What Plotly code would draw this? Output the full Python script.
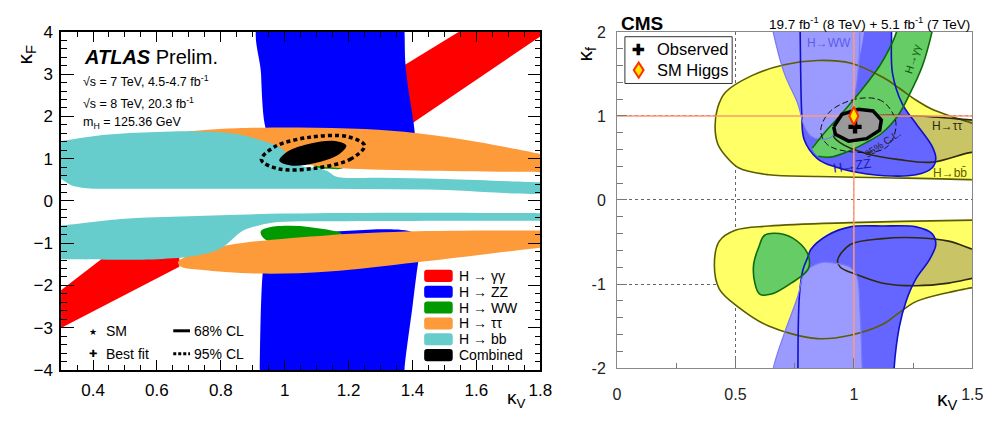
import plotly.graph_objects as go

W, H = 1001, 421
FONT = "Liberation Sans, Arial, Helvetica, sans-serif"

# ================= ATLAS panel (left): kappa_V vs kappa_F =================
ATLAS_KV_RANGE = [0.3, 1.8]
ATLAS_KF_RANGE = [-4, 4]
ATLAS_XTICKS = [0.4, 0.6, 0.8, 1.0, 1.2, 1.4, 1.6, 1.8]
ATLAS_XTICKTEXT = ["0.4", "0.6", "0.8", "1", "1.2", "1.4", "1.6", "1.8"]
ATLAS_YTICKS = [-4, -3, -2, -1, 0, 1, 2, 3, 4]
ATLAS_YTICKTEXT = ["\u22124", "\u22123", "\u22122", "\u22121", "0", "1", "2", "3", "4"]

# H -> gamma gamma (two bands)
ATLAS_GG_UP_KV = [1.30, 1.577, 1.85, 1.406, 1.30]
ATLAS_GG_UP_KF = [2.87, 4.15, 4.15, 1.876, 1.33]
ATLAS_GG_LO_KV = [0.25, 0.25, 0.44, 0.67, 0.67]
ATLAS_GG_LO_KF = [-3.2, -2.4, -1.3, -1.3, -1.56]
# H -> ZZ
ATLAS_ZZ_UP_KV = [0.925, 0.926, 0.937, 0.95, 0.97, 1.10, 1.30, 1.42, 1.415, 1.409, 1.403, 1.39, 1.378, 1.375, 1.372]
ATLAS_ZZ_UP_KF = [4.3, 3.0, 1.83, 1.5, 1.25, 0.95, 0.88, 0.85, 1.2, 1.49, 1.88, 2.5, 3.23, 4.0, 4.3]
ATLAS_ZZ_LO_KV = [0.922, 0.922, 0.931, 0.945, 0.97, 1.10, 1.40, 1.43, 1.418, 1.40, 1.375, 1.375]
ATLAS_ZZ_LO_KF = [-4.3, -4.0, -1.72, -1.0, -0.76, -0.74, -0.74, -1.0, -1.45, -2.5, -4.0, -4.3]
# H -> WW
ATLAS_WW_LO_KV = [0.925, 0.95, 1.014, 1.08, 1.147, 1.178, 1.15, 0.96, 0.93]
ATLAS_WW_LO_KF = [-0.72, -0.63, -0.59, -0.62, -0.70, -0.78, -0.95, -0.98, -0.85]
ATLAS_WW_UP_KV = [1.08, 1.10, 1.14, 1.18, 1.19, 1.15]
ATLAS_WW_UP_KF = [0.95, 0.80, 0.76, 0.77, 0.85, 0.95]
# H -> tau tau
ATLAS_TT_UP_KV = [0.69, 0.75, 0.85, 1.045, 1.25, 1.415, 1.6, 1.8, 1.85, 1.85, 1.8, 1.415, 1.15, 1.05, 0.93, 0.80, 0.72]
ATLAS_TT_UP_KF = [1.63, 1.68, 1.72, 1.74, 1.70, 1.60, 1.40, 1.11, 1.02, 0.67, 0.68, 0.72, 0.79, 0.90, 1.20, 1.45, 1.57]
ATLAS_TT_LO_KV = [0.666, 0.707, 0.83, 1.138, 1.415, 1.8, 1.85, 1.85, 1.8, 1.415, 1.138, 0.922, 0.737, 0.676]
ATLAS_TT_LO_KF = [-1.45, -1.27, -1.04, -0.81, -0.72, -0.70, -0.70, -1.07, -1.11, -1.45, -1.67, -1.72, -1.63, -1.56]
# H -> bb
ATLAS_BB_UP_KV = [0.25, 0.3, 0.43, 0.6, 0.707, 0.83, 0.92, 0.984, 1.05, 1.11, 1.135, 1.16, 1.3, 1.5, 1.8, 1.85,
                  1.85, 1.45, 1.0, 0.5, 0.38, 0.33, 0.3, 0.26]
ATLAS_BB_UP_KF = [1.40, 1.42, 1.56, 1.63, 1.65, 1.60, 1.45, 1.27, 0.84, 0.77, 0.70, 0.58, 0.55, 0.52, 0.44, 0.43,
                  0.25, 0.27, 0.29, 0.29, 0.30, 0.38, 0.52, 0.62]
ATLAS_BB_LO_KV = [0.25, 0.3, 0.5, 0.7, 1.0, 1.4, 1.8, 1.85, 1.85, 1.8, 1.2, 0.98, 0.92, 0.87, 0.80, 0.72, 0.6, 0.3, 0.25]
ATLAS_BB_LO_KF = [-0.60, -0.58, -0.42, -0.36, -0.30, -0.28, -0.29, -0.29, -0.47, -0.47, -0.48, -0.50, -0.58, -0.70,
                  -1.12, -1.30, -1.38, -1.38, -1.38]
# Combined 68% and 95% CL
ATLAS_C68_KV = [1.193, 1.168, 1.096, 1.019, 0.983, 1.009, 1.081, 1.157]
ATLAS_C68_KF = [1.311, 1.092, 0.899, 0.841, 0.951, 1.168, 1.360, 1.419]
ATLAS_C95_KV = [1.250, 1.208, 1.095, 0.979, 0.927, 0.969, 1.081, 1.198]
ATLAS_C95_KF = [1.309, 0.997, 0.773, 0.762, 0.974, 1.284, 1.510, 1.519]

ATLAS_LEG_LABELS = ["H \u2192 \u03b3\u03b3", "H \u2192 ZZ", "H \u2192 WW", "H \u2192 \u03c4\u03c4", "H \u2192 bb", "Combined"]
ATLAS_COLORS = ["#ff0000", "#0000ff", "#009a00", "#fd9a3a", "#66cccc", "#000000"]

# ================= CMS panel (right): kappa_V vs kappa_f =================
CMS_KV_RANGE = [0, 1.5]
CMS_KF_RANGE = [-2, 2]
CMS_XTICKS = [0, 0.5, 1.0, 1.5]
CMS_XTICKTEXT = ["0", "0.5", "1", "1.5"]
CMS_YTICKS = [-2, -1, 0, 1, 2]
CMS_YTICKTEXT = ["-2", "-1", "0", "1", "2"]

CMS_BB_UP_KV = [0.414, 0.425, 0.457, 0.569, 0.706, 0.847, 0.985, 1.122, 1.192, 1.262, 1.33, 1.504, 1.56,
                1.56, 1.504, 1.122, 0.847, 0.64, 0.515, 0.457, 0.425]
CMS_BB_UP_KF = [0.87, 1.10, 1.28, 1.48, 1.61, 1.66, 1.63, 1.46, 1.33, 1.19, 1.08, 0.91, 0.86,
                0.23, 0.24, 0.265, 0.28, 0.30, 0.38, 0.53, 0.67]
CMS_BB_LO_KV = [0.411, 0.432, 0.499, 0.64, 0.985, 1.504, 1.56, 1.56, 1.504, 1.40, 1.262, 1.192, 1.122,
                0.985, 0.847, 0.64, 0.515, 0.432]
CMS_BB_LO_KF = [-0.77, -0.49, -0.36, -0.31, -0.27, -0.24, -0.24, -1.00, -1.04, -1.10, -1.21, -1.34, -1.48,
                -1.61, -1.65, -1.50, -1.28, -1.06]
CMS_TT_UP_KV = [0.914, 0.985, 1.055, 1.262, 1.504, 1.56, 1.56, 1.504, 1.33, 1.192, 1.055, 0.943]
CMS_TT_UP_KF = [0.77, 0.91, 0.99, 1.0, 0.95, 0.94, 0.55, 0.57, 0.45, 0.48, 0.55, 0.68]
CMS_TT_LO_KV = [0.931, 0.985, 1.122, 1.262, 1.40, 1.504, 1.56, 1.56, 1.504, 1.40, 1.262, 1.122, 1.013, 0.943]
CMS_TT_LO_KF = [-0.72, -0.53, -0.46, -0.45, -0.49, -0.59, -0.64, -0.90, -0.93, -0.99, -1.02, -0.99, -0.89, -0.80]
CMS_ZZ_UP_KV = [0.772, 0.775, 0.78, 0.79, 0.847, 0.914, 1.055, 1.262, 1.33, 1.346, 1.33, 1.262, 1.205, 1.163, 1.159, 1.158]
CMS_ZZ_UP_KF = [2.3, 1.6, 1.02, 0.72, 0.49, 0.40, 0.31, 0.30, 0.38, 0.49, 0.64, 0.91, 1.14, 1.51, 1.99, 2.3]
CMS_ZZ_LO_KV = [0.764, 0.77, 0.785, 0.806, 0.818, 0.889, 0.985, 1.122, 1.262, 1.33, 1.346, 1.317, 1.262, 1.22, 1.192, 1.17, 1.168]
CMS_ZZ_LO_KF = [-2.3, -1.14, -0.83, -0.68, -0.59, -0.42, -0.32, -0.31, -0.32, -0.40, -0.53, -0.72, -0.94, -1.21, -1.51, -2.0, -2.3]
CMS_WW_UP_KV = [0.64, 0.66, 0.706, 0.764, 0.79, 0.818, 0.86, 0.90, 0.93, 0.97, 1.00, 1.02, 1.026]
CMS_WW_UP_KF = [2.3, 1.99, 1.51, 1.14, 0.88, 0.76, 0.72, 0.74, 0.83, 1.00, 1.2, 1.6, 2.3]
CMS_WW_LO_KV = [0.65, 0.66, 0.706, 0.764, 0.79, 0.83, 0.872, 0.914, 0.985, 1.013, 1.026, 1.035, 1.037]
CMS_WW_LO_KF = [-2.3, -2.0, -1.59, -1.14, -0.87, -0.78, -0.74, -0.75, -0.80, -0.91, -1.33, -2.0, -2.3]
CMS_GG_UP_KV = [0.825, 0.87, 0.94, 1.03, 1.11, 1.15, 1.18, 1.20, 1.35, 1.33, 1.29, 1.234, 1.185, 1.12, 1.05, 0.96, 0.90, 0.85]
CMS_GG_UP_KF = [0.62, 0.78, 1.0, 1.3, 1.6, 1.8, 2.0, 2.3, 2.3, 2.0, 1.6, 1.25, 1.0, 0.80, 0.68, 0.56, 0.51, 0.52]
CMS_GG_LO_KV = [0.577, 0.60, 0.623, 0.706, 0.777, 0.81, 0.806, 0.735, 0.652, 0.602, 0.582]
CMS_GG_LO_KF = [-0.76, -0.55, -0.42, -0.41, -0.53, -0.68, -0.83, -0.99, -1.12, -1.12, -0.99]
CMS_C68_KV = [0.915, 0.950, 1.019, 1.081, 1.116, 1.109, 1.054, 0.978, 0.922]
CMS_C68_KF = [0.87, 1.02, 1.08, 1.06, 0.95, 0.83, 0.73, 0.70, 0.78]
CMS_C95_KV = [1.178, 1.123, 1.026, 0.902, 0.860, 0.888, 0.998, 1.137]
CMS_C95_KF = [0.91, 1.17, 1.21, 1.06, 0.83, 0.66, 0.57, 0.625]
CMS_OBS_KV = [1.005]
CMS_OBS_KF = [0.87]
SM_KV = [1.0]
SM_KF = [1.0]
CMS_LEG_LABELS = ["Observed", "SM Higgs"]


def px(x):
    return x / W


def py(y):
    return 1 - y / H


fig = go.Figure()


def region(kv, kf, color, xa, ya, shape="spline", close=True):
    xs, ys = list(kv), list(kf)
    if close:
        xs.append(xs[0]); ys.append(ys[0])
    fig.add_trace(go.Scatter(x=xs, y=ys, mode="lines", fill="toself", fillcolor=color,
                             line=dict(width=0, shape=shape, smoothing=1), xaxis=xa, yaxis=ya,
                             hoverinfo="skip", showlegend=False))


def outline(kv, kf, color, width, xa, ya, shape="spline", close=True, dash=None):
    xs, ys = list(kv), list(kf)
    if close:
        xs.append(xs[0]); ys.append(ys[0])
    fig.add_trace(go.Scatter(x=xs, y=ys, mode="lines",
                             line=dict(width=width, color=color, shape=shape, smoothing=1, dash=dash),
                             xaxis=xa, yaxis=ya, hoverinfo="skip", showlegend=False))


# ---- ATLAS regions ----
region(ATLAS_GG_UP_KV, ATLAS_GG_UP_KF, ATLAS_COLORS[0], "x", "y", shape="linear")
region(ATLAS_GG_LO_KV, ATLAS_GG_LO_KF, ATLAS_COLORS[0], "x", "y", shape="linear")
region(ATLAS_ZZ_UP_KV, ATLAS_ZZ_UP_KF, ATLAS_COLORS[1], "x", "y")
region(ATLAS_ZZ_LO_KV, ATLAS_ZZ_LO_KF, ATLAS_COLORS[1], "x", "y")
region(ATLAS_WW_LO_KV, ATLAS_WW_LO_KF, ATLAS_COLORS[2], "x", "y")
region(ATLAS_WW_UP_KV, ATLAS_WW_UP_KF, ATLAS_COLORS[2], "x", "y")
region(ATLAS_TT_UP_KV, ATLAS_TT_UP_KF, ATLAS_COLORS[3], "x", "y")
region(ATLAS_TT_LO_KV, ATLAS_TT_LO_KF, ATLAS_COLORS[3], "x", "y")
region(ATLAS_BB_UP_KV, ATLAS_BB_UP_KF, ATLAS_COLORS[4], "x", "y")
region(ATLAS_BB_LO_KV, ATLAS_BB_LO_KF, ATLAS_COLORS[4], "x", "y")
region(ATLAS_C68_KV, ATLAS_C68_KF, ATLAS_COLORS[5], "x", "y")
outline(ATLAS_C95_KV, ATLAS_C95_KF, "black", 3.5, "x", "y", dash="4px,3px")

# ---- CMS regions ----
C_YEL, C_TT, C_ZZ, C_WW, C_GG, C_COMB = "#ffff66", "#c9c466", "#6565ff", "#9b9bff", "#66cc66", "#9a9a9a"
region(CMS_BB_UP_KV, CMS_BB_UP_KF, C_YEL, "x2", "y2")
region(CMS_BB_LO_KV, CMS_BB_LO_KF, C_YEL, "x2", "y2")
region(CMS_TT_UP_KV, CMS_TT_UP_KF, C_TT, "x2", "y2")
region(CMS_TT_LO_KV, CMS_TT_LO_KF, C_TT, "x2", "y2")
region(CMS_ZZ_UP_KV, CMS_ZZ_UP_KF, C_ZZ, "x2", "y2")
region(CMS_ZZ_LO_KV, CMS_ZZ_LO_KF, C_ZZ, "x2", "y2")
region(CMS_WW_UP_KV, CMS_WW_UP_KF, C_WW, "x2", "y2")
region(CMS_WW_LO_KV, CMS_WW_LO_KF, C_WW, "x2", "y2")
region(CMS_GG_UP_KV, CMS_GG_UP_KF, C_GG, "x2", "y2")
region(CMS_GG_LO_KV, CMS_GG_LO_KF, C_GG, "x2", "y2")
# outlines on top of the fills
outline(CMS_BB_UP_KV, CMS_BB_UP_KF, "#5c5c00", 1.6, "x2", "y2")
outline(CMS_BB_LO_KV, CMS_BB_LO_KF, "#5c5c00", 1.6, "x2", "y2")
outline(CMS_TT_UP_KV, CMS_TT_UP_KF, "#2e2a10", 1.6, "x2", "y2")
outline(CMS_TT_LO_KV, CMS_TT_LO_KF, "#2e2a10", 1.6, "x2", "y2")
outline(CMS_ZZ_UP_KV, CMS_ZZ_UP_KF, "#1010c8", 1.6, "x2", "y2", close=False)
outline(CMS_ZZ_LO_KV, CMS_ZZ_LO_KF, "#1010c8", 1.6, "x2", "y2", close=False)
outline(CMS_WW_UP_KV, CMS_WW_UP_KF, "#7a7af0", 1.2, "x2", "y2", close=False)
outline(CMS_WW_LO_KV, CMS_WW_LO_KF, "#7a7af0", 1.2, "x2", "y2", close=False)
outline(CMS_GG_UP_KV, CMS_GG_UP_KF, "#0b6b0b", 1.6, "x2", "y2", close=False)
outline(CMS_GG_LO_KV, CMS_GG_LO_KF, "#0b6b0b", 1.6, "x2", "y2")
outline(CMS_C95_KV, CMS_C95_KF, "#111111", 1.0, "x2", "y2", dash="6px,3px")
# SM reference lines
fig.add_trace(go.Scatter(x=SM_KV * 2, y=CMS_KF_RANGE, mode="lines", line=dict(color="#ff9a78", width=1.5),
                         xaxis="x2", yaxis="y2", hoverinfo="skip", showlegend=False))
fig.add_trace(go.Scatter(x=CMS_KV_RANGE, y=SM_KF * 2, mode="lines", line=dict(color="#ff9a78", width=1.5),
                         xaxis="x2", yaxis="y2", hoverinfo="skip", showlegend=False))
# combined 68% CL
fig.add_trace(go.Scatter(x=CMS_C68_KV + CMS_C68_KV[:1], y=CMS_C68_KF + CMS_C68_KF[:1], mode="lines",
                         fill="toself", fillcolor=C_COMB, line=dict(color="black", width=3.5),
                         xaxis="x2", yaxis="y2", hoverinfo="skip", showlegend=False))
fig.add_trace(go.Scatter(x=CMS_OBS_KV, y=CMS_OBS_KF, mode="markers", name=CMS_LEG_LABELS[0],
                         marker=dict(symbol="cross", size=11, color="black"),
                         xaxis="x2", yaxis="y2", hoverinfo="skip", showlegend=False))
fig.add_trace(go.Scatter(x=SM_KV, y=SM_KF, mode="markers", name=CMS_LEG_LABELS[1],
                         marker=dict(symbol="diamond-tall", size=13, color="#ffe800",
                                     line=dict(color="#ff3000", width=2)),
                         xaxis="x2", yaxis="y2", hoverinfo="skip", showlegend=False))

# ---------------- annotations ----------------
ann = []


def text(x, y, s, size, color="black", xanchor="center", angle=0, yanchor="middle"):
    ann.append(dict(x=px(x), y=py(y), xref="paper", yref="paper", text=s, showarrow=False,
                    font=dict(family=FONT, size=size, color=color), xanchor=xanchor, yanchor=yanchor,
                    textangle=angle))


# ATLAS texts
text(79, 50, "<b><i>ATLAS</i></b> Prelim.", 20, xanchor="left")
text(78, 75, "\u221as = 7 TeV, 4.5-4.7 fb<sup>-1</sup>", 12.5, xanchor="left")
text(78, 98, "\u221as = 8 TeV, 20.3 fb<sup>-1</sup>", 12.5, xanchor="left")
text(78, 119, "m<sub>H</sub> = 125.36 GeV", 12.5, xanchor="left")
text(22, 48, "\u03ba<sub>F</sub>", 21, angle=-90)
text(521, 423, "\u03ba<sub>V</sub>", 19, yanchor="bottom")
text(90, 338, "\u2605", 9)
text(102, 337, "SM", 14, xanchor="left")
text(90, 361, "\u271a", 10)
text(102, 361, "Best fit", 14, xanchor="left")
text(191, 337, "68% CL", 14, xanchor="left")
text(191, 361, "95% CL", 14, xanchor="left")

shapes = []


def rrect(x0, y0, x1, y1, r):
    X = lambda v: px(v)
    Y = lambda v: py(v)
    return (f"M{X(x0 + r)},{Y(y0)} L{X(x1 - r)},{Y(y0)} Q{X(x1)},{Y(y0)} {X(x1)},{Y(y0 + r)} "
            f"L{X(x1)},{Y(y1 - r)} Q{X(x1)},{Y(y1)} {X(x1 - r)},{Y(y1)} L{X(x0 + r)},{Y(y1)} "
            f"Q{X(x0)},{Y(y1)} {X(x0)},{Y(y1 - r)} L{X(x0)},{Y(y0 + r)} Q{X(x0)},{Y(y0)} {X(x0 + r)},{Y(y0)} Z")


for i, (lab, col) in enumerate(zip(ATLAS_LEG_LABELS, ATLAS_COLORS)):
    yc = 279.5 + i * 16.6
    shapes.append(dict(type="path", xref="paper", yref="paper", path=rrect(427, yc - 6.3, 456, yc + 6.3, 3),
                       fillcolor=col, line=dict(width=0), layer="above"))
    text(460, yc, lab, 14, xanchor="left")

shapes.append(dict(type="line", xref="paper", yref="paper", x0=px(172), x1=px(189), y0=py(337), y1=py(337),
                   line=dict(color="black", width=3)))
shapes.append(dict(type="line", xref="paper", yref="paper", x0=px(172), x1=px(189), y0=py(361), y1=py(361),
                   line=dict(color="black", width=3, dash="3px,2px")))

# CMS legend box (drawn by hand to match the reference layout)
shapes.append(dict(type="rect", xref="paper", yref="paper", x0=px(631), x1=px(740), y0=py(78), y1=py(29),
                   fillcolor="white", line=dict(color="#333333", width=1), layer="above"))
text(645, 42.5, "<b>\u271a</b>", 15)
shapes.append(dict(type="path", xref="paper", yref="paper",
                   path=(f"M{px(645)},{py(56)} L{px(650)},{py(64)} L{px(645)},{py(72)} "
                         f"L{px(640)},{py(64)} Z"),
                   fillcolor="#ffe800", line=dict(color="#ff3000", width=2), layer="above"))
text(662, 42, CMS_LEG_LABELS[0], 16.5, xanchor="left")
text(662, 64, CMS_LEG_LABELS[1], 16.5, xanchor="left")

# CMS texts
text(625, 15, "<b>CMS</b>", 19, xanchor="left")
text(984, 15, "19.7 fb<sup>-1</sup> (8 TeV) + 5.1 fb<sup>-1</sup> (7 TeV)", 13.5, xanchor="right")
text(591, 47, "\u03ba<sub>f</sub>", 21, angle=-90)
text(959, 409, "\u03ba<sub>V</sub>", 21)
text(838, 36, "H\u2192WW", 12, color="#5d5de8")
text(862, 164, "H\u2192ZZ", 13, color="#1c1caa", angle=-8)
text(923, 52, "H\u2192\u03b3\u03b3", 11, color="#0b5e0b", angle=-72)
text(958, 123, "H\u2192\u03c4\u03c4", 12, color="#2e2a10")
text(961, 172, "H\u2192bb\u0304", 12, color="#5c5c00")
text(893, 141, "95% C.L.", 10, color="#222222", angle=-34)

axis_common = dict(showline=True, ticks="inside", zeroline=False, showgrid=False)

fig.update_layout(
    width=W, height=H, autosize=False, margin=dict(l=0, r=0, t=0, b=0),
    paper_bgcolor="white", plot_bgcolor="white", showlegend=False,
    font=dict(family=FONT, color="black"),
    xaxis=dict(domain=[px(58), px(545)], range=ATLAS_KV_RANGE, anchor="y",
               tickmode="array", tickvals=ATLAS_XTICKS, ticktext=ATLAS_XTICKTEXT,
               ticklen=10, tickwidth=1, tickcolor="black", linecolor="black", linewidth=1.5, mirror="ticks",
               tickfont=dict(size=17, family=FONT), ticklabelstandoff=4,
               minor=dict(tickmode="linear", tick0=0, dtick=0.05, ticklen=5, ticks="inside", tickcolor="black"),
               **axis_common),
    yaxis=dict(domain=[py(378), py(24)], range=ATLAS_KF_RANGE, anchor="x",
               tickmode="array", tickvals=ATLAS_YTICKS, ticktext=ATLAS_YTICKTEXT,
               ticklen=13, tickwidth=1, tickcolor="black", linecolor="black", linewidth=1.5, mirror="ticks",
               tickfont=dict(size=17, family=FONT), ticklabelstandoff=3,
               minor=dict(tickmode="linear", tick0=0, dtick=0.2, ticklen=6, ticks="inside", tickcolor="black"),
               **axis_common),
    xaxis2=dict(domain=[px(623), px(984)], range=CMS_KV_RANGE, anchor="y2",
                tickmode="array", tickvals=CMS_XTICKS, ticktext=CMS_XTICKTEXT,
                ticklen=10, tickwidth=1, tickcolor="#777777", linecolor="#888888", linewidth=1, mirror=True,
                tickfont=dict(size=16, family=FONT, color="#222222"), ticklabelstandoff=12,
                minor=dict(tickmode="linear", tick0=0, dtick=0.25, ticklen=5, ticks="inside", tickcolor="#777777"),
                showline=True, ticks="inside", zeroline=False, showgrid=True,
                gridcolor="#666666", griddash="dot", gridwidth=1),
    yaxis2=dict(domain=[py(376), py(24)], range=CMS_KF_RANGE, anchor="x2",
                tickmode="array", tickvals=CMS_YTICKS, ticktext=CMS_YTICKTEXT,
                ticklen=10, tickwidth=1, tickcolor="#777777", linecolor="#888888", linewidth=1, mirror=True,
                tickfont=dict(size=16, family=FONT, color="#222222"), ticklabelstandoff=7,
                minor=dict(tickmode="linear", tick0=0, dtick=0.2, ticklen=6, ticks="inside", tickcolor="#777777"),
                showline=True, ticks="inside", zeroline=False, showgrid=True,
                gridcolor="#666666", griddash="dot", gridwidth=1),
    annotations=ann, shapes=shapes,
)

fig.write_html("out.html")
